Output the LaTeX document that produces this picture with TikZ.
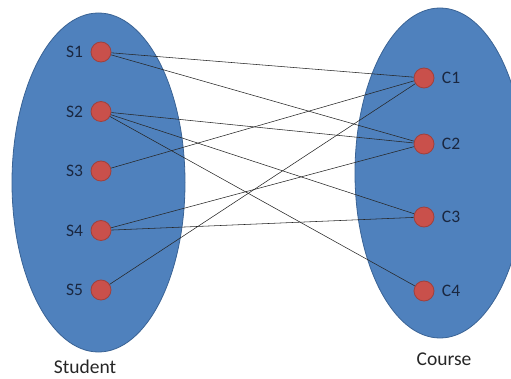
\documentclass[tikz,border=0pt]{standalone}
\usepackage{fontspec}
\setmainfont{Carlito}
\usetikzlibrary{shapes.geometric}

\definecolor{setblue}{HTML}{4F81BD}
\definecolor{setedge}{HTML}{3A6395}
\definecolor{dotred}{HTML}{C9504B}
\definecolor{dotedge}{HTML}{A0403C}
\definecolor{labelink}{HTML}{1A2740}

\begin{document}
\begin{tikzpicture}[
    x=1pt, y=-1pt,
    node distance=59.5pt,
    set/.style={ellipse, draw=setedge, fill=setblue, line width=0.8pt, inner sep=0pt},
    elem/.style={circle, draw=dotedge, fill=dotred, line width=0.8pt, minimum size=20pt, inner sep=0pt},
    slabel/.style={label={[text=labelink, font=\fontsize{17.5}{17.5}\selectfont, label distance=4pt]left:#1}},
    clabel/.style={label={[text=labelink, font=\fontsize{17.5}{17.5}\selectfont, label distance=4pt]right:#1}},
    caption/.style={font=\fontsize{19.5}{19.5}\selectfont, text=black!85, inner sep=1pt},
    link/.style={line width=0.55pt, draw=black!85}
]
    \useasboundingbox (0,0) rectangle (511,379);

    % Sets
    \node [set, minimum width=173pt, minimum height=339pt] (student) at (98.5,182.5) {};
    \node [set, minimum width=170pt, minimum height=330pt] (course) at (440,173) {};

    % Students
    \node [elem, slabel=S1] (s1) at (101,52) {};
    \node [elem, slabel=S2, below of=s1] (s2) {};
    \node [elem, slabel=S3, below of=s2] (s3) {};
    \node [elem, slabel=S4, below of=s3] (s4) {};
    \node [elem, slabel=S5, below of=s4] (s5) {};

    % Courses
    \node [elem, clabel=C1] (c1) at (424,78) {};
    \node [elem, clabel=C2] (c2) at (424,144) {};
    \node [elem, clabel=C3] (c3) at (424,217) {};
    \node [elem, clabel=C4] (c4) at (424,291) {};

    % Captions
    \node [caption] (studentname) at (85,366.5) {Student};
    \node [caption] (coursename) at (444,359) {Course};

    % Enrolments
    \draw [link] (s1) -- (c1);
    \draw [link] (s1) -- (c2);
    \draw [link] (s2) -- (c2);
    \draw [link] (s2) -- (c3);
    \draw [link] (s2) -- (c4);
    \draw [link] (s3) -- (c1);
    \draw [link] (s4) -- (c2);
    \draw [link] (s4) -- (c3);
    \draw [link] (s5) -- (c1);
\end{tikzpicture}
\end{document}
